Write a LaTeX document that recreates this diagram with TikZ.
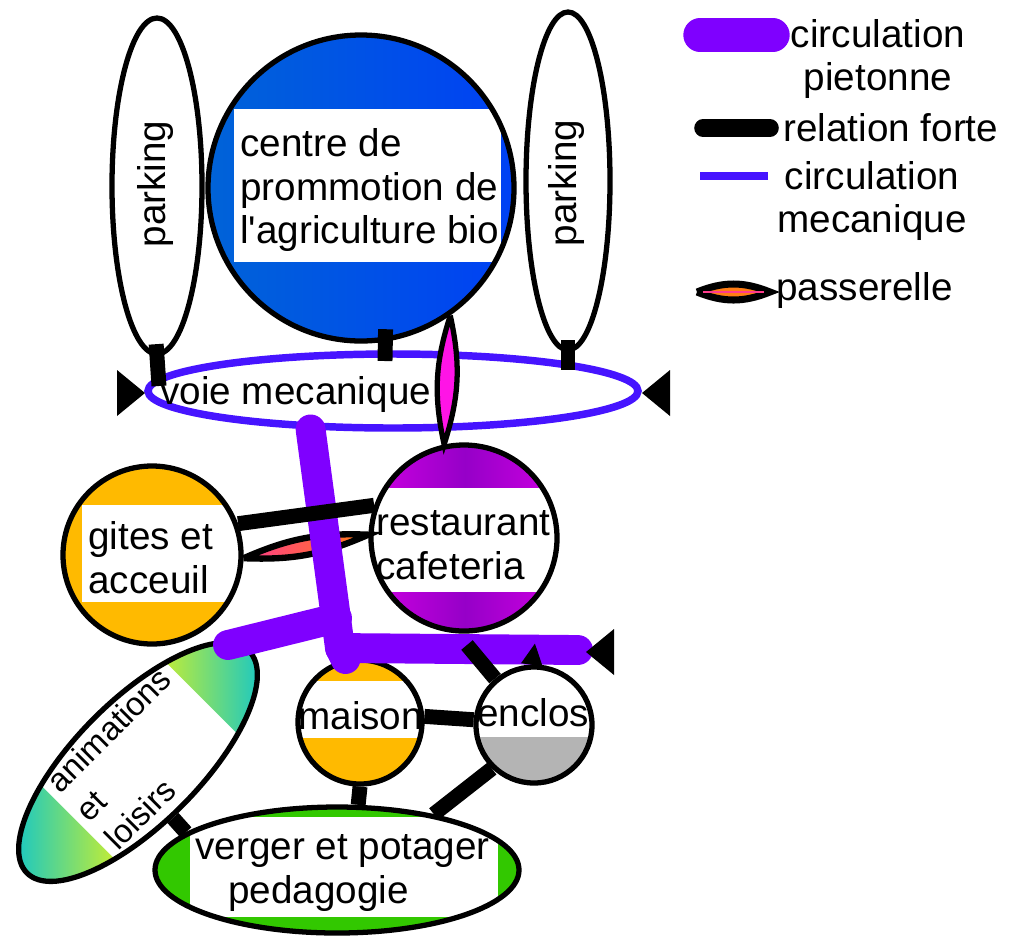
\documentclass[tikz,border=0pt]{standalone}
\usepackage{fontspec}
\newfontfamily\diagfont{Liberation Sans}
\usetikzlibrary{shapes.geometric,arrows.meta}

\definecolor{violetpieton}{RGB}{127,0,255}
\definecolor{bleumeca}{RGB}{70,20,255}
\definecolor{bleucentreg}{RGB}{0,100,215}
\definecolor{bleucentred}{RGB}{0,64,245}
\definecolor{orangegite}{RGB}{255,186,0}
\definecolor{magresto}{RGB}{205,0,225}
\definecolor{violresto}{RGB}{150,0,200}
\definecolor{grisenclos}{RGB}{180,180,180}
\definecolor{vertverger}{RGB}{50,200,0}
\definecolor{cyananim}{RGB}{25,200,195}
\definecolor{jauneanim}{RGB}{235,245,20}
\definecolor{magpass}{RGB}{255,20,230}
\definecolor{orangepass}{RGB}{255,125,20}
\definecolor{rosepass}{RGB}{255,60,140}

\tikzset{
  zone/.style={draw, line width=3pt, inner sep=0pt},
  txt/.style={font=\diagfont\fontsize{22}{25}\selectfont, inner sep=0pt},
  forte/.style={line width=8.5pt},
  attache/.style={forte, shorten <=-2.5mm},
  pieton/.style={line width=17pt, violetpieton, line cap=round, line join=round},
  meca/.style={bleumeca, line width=4.25pt},
  passe/.style={draw=black, line width=3pt},
}

\begin{document}
\begin{tikzpicture}[x=0.2mm,y=-0.2mm]
  \useasboundingbox (0,0) rectangle (1012,936);

  % parkings
  \node[zone, ellipse, minimum width=18mm, minimum height=67.2mm] (parkg) at (157,186) {};
  \node[txt, rotate=90] (parkgtxt) at (156,184) {parking};
  \node[zone, ellipse, minimum width=16.8mm, minimum height=67.6mm] (parkd) at (568,181) {};
  \node[txt, rotate=90] (parkdtxt) at (566,183) {parking};

  % centre
  \begin{scope}
    \clip (361,188) circle[radius=153];
    \shade[left color=bleucentreg, right color=bleucentred] (200,30) rectangle (520,345);
    \fill[white] (234,109) rectangle (501,262);
    \node[txt, align=left, anchor=west] (centretxt) at (240,190)
      {centre de\\prommotion de\\l'agriculture bio};
  \end{scope}
  \node[zone, circle, minimum size=61.2mm] (centre) at (361,188) {};

  % voie
  \node[ellipse, draw=bleumeca, line width=4.25pt, minimum width=98mm,
    minimum height=14.8mm] (voie) at (393,391) {};
  \node[txt, anchor=west] (voietxt) at (160,394) {voie mecanique};
  \coordinate (accesg) at (159,386);
  \coordinate (accesc) at (385,361);
  \coordinate (accesd) at (568,370);

  % restaurant
  \begin{scope}
    \clip (464,538) circle[radius=93];
    \shade[left color=magresto, right color=magresto, middle color=violresto]
      (370,440) rectangle (560,635);
    \fill[white] (365,488) rectangle (565,592);
    \node[txt, align=left, anchor=west] (resttxt) at (376,545) {restaurant\\cafeteria};
  \end{scope}
  \node[zone, circle, minimum size=37.2mm] (rest) at (464,538) {};

  % gites
  \begin{scope}
    \clip (152,555) circle[radius=89];
    \fill[orangegite] (60,460) rectangle (245,650);
    \fill[white] (82,505) rectangle (245,602);
    \node[txt, align=left, anchor=west] (gitestxt) at (88,558) {gites et\\acceuil};
  \end{scope}
  \node[zone, circle, minimum size=35.6mm] (gites) at (152,555) {};

  % maison
  \begin{scope}
    \clip (360,722) circle[radius=62];
    \fill[orangegite] (295,655) rectangle (425,790);
    \fill[white] (290,681) rectangle (430,738);
    \node[txt, anchor=west] (maisontxt) at (298,716) {maison};
  \end{scope}
  \node[zone, circle, minimum size=24.8mm] (maison) at (360,722) {};

  % enclos
  \begin{scope}
    \clip (534,725) circle[radius=58];
    \fill[grisenclos] (470,737) rectangle (600,790);
    \node[txt, anchor=west] (enclostxt) at (477,713) {enclos};
  \end{scope}
  \node[zone, circle, minimum size=23.2mm] (enclos) at (534,725) {};

  % verger
  \begin{scope}
    \clip (337,870) circle[x radius=182, y radius=63];
    \fill[vertverger] (150,800) rectangle (525,940);
    \fill[white] (190,817) rectangle (498,917);
    \node[txt, align=left, anchor=west] (vergertxt) at (195,873)
      {verger et potager\\\hspace*{6.6mm}pedagogie};
  \end{scope}
  \node[zone, ellipse, minimum width=72.8mm, minimum height=25.2mm] (verger) at (337,870) {};

  % animations
  \begin{scope}
    \clip[rotate around={45:(138,762)}] (138,762) circle[x radius=157, y radius=62];
    \shade[left color=cyananim, right color=cyananim, middle color=jauneanim]
      (15,640) rectangle (262,885);
    \fill[white, rotate around={45:(138,762)}] (53,697) rectangle (228,827);
    \node[txt, font=\diagfont\fontsize{18.7}{23.2}\selectfont, rotate=45,
      align=left, anchor=west] (animtxt) at (81,815) {animations\\et\\loisirs};
  \end{scope}
  \node[zone, ellipse, minimum width=62.8mm, minimum height=24.8mm, rotate=45]
    (anim) at (138,762) {};

  % passerelles
  \draw[passe, fill=magpass] (centre.-55) to[bend left=15] (rest.102)
    to[bend left=15] (centre.-55);
  \draw[passe, line width=3.6pt, left color=rosepass, right color=orangepass] (gites.-2)
    to[bend left=13] (rest.178) to[bend left=13] (gites.-2);

  % circulation pietonne
  \coordinate (jonction) at (340,648);
  \coordinate (branche) at (337,618);
  \coordinate (pietg) at (228,645);
  \coordinate (pietd) at (578,650);
  \draw[pieton] (voie.205) -- (jonction) -- (maison.103);
  \draw[pieton] (pietg) -- (branche);
  \draw[pieton] (jonction) -- (pietd);

  % relations fortes
  \draw[attache] (parkg.south) -- (accesg);
  \draw[attache] (centre.-81) -- (accesc);
  \draw[attache] (parkd.south) -- (accesd);
  \draw[forte] (gites.20) -- (rest.160);
  \draw[forte] (maison.5) -- (enclos.175);
  \draw[forte] (maison.south) -- (verger.72);
  \draw[forte] (enclos.226) -- (verger.30);
  \draw[forte] (anim.-103) -- (verger.166);
  \coordinate (entreeenclos) at (467,645);
  \coordinate (fleche) at (535,643);
  \draw[forte] (enclos.130) -- (entreeenclos);
  \draw[forte, -{Triangle[length=4.4mm, width=4mm]}] (enclos.92) -- (fleche);

  % entrees
  \foreach \tx/\ty/\dir in {117/393/1, 670/393/-1, 614/652/-1}
    \fill (\tx,\ty-23) -- ++(28*\dir,23) -- ++(-28*\dir,23) -- cycle;

  % legende
  \node[txt, align=center] (legpiet) at (878,59) {circulation\\pietonne};
  \draw[pieton, line width=19pt] (700,35) -- (773,35);
  \node[txt, anchor=west] (legforte) at (783,128) {relation forte};
  \draw[forte, line width=10pt, line cap=round] (703,128) -- (770,128);
  \node[txt, align=center] (legmeca) at (872,201) {circulation\\mecanique};
  \draw[meca, line width=5pt] (700,176) -- (768,176);
  \node[txt, anchor=west] (legpass) at (776,290) {passerelle};
  \draw[passe, fill=orangepass, line width=4pt] (697,292) to[bend left=22] (770,292)
    to[bend left=22] (697,292);
  \draw[rosepass, line width=1pt] (703,292) -- (764,292);
\end{tikzpicture}
\end{document}
